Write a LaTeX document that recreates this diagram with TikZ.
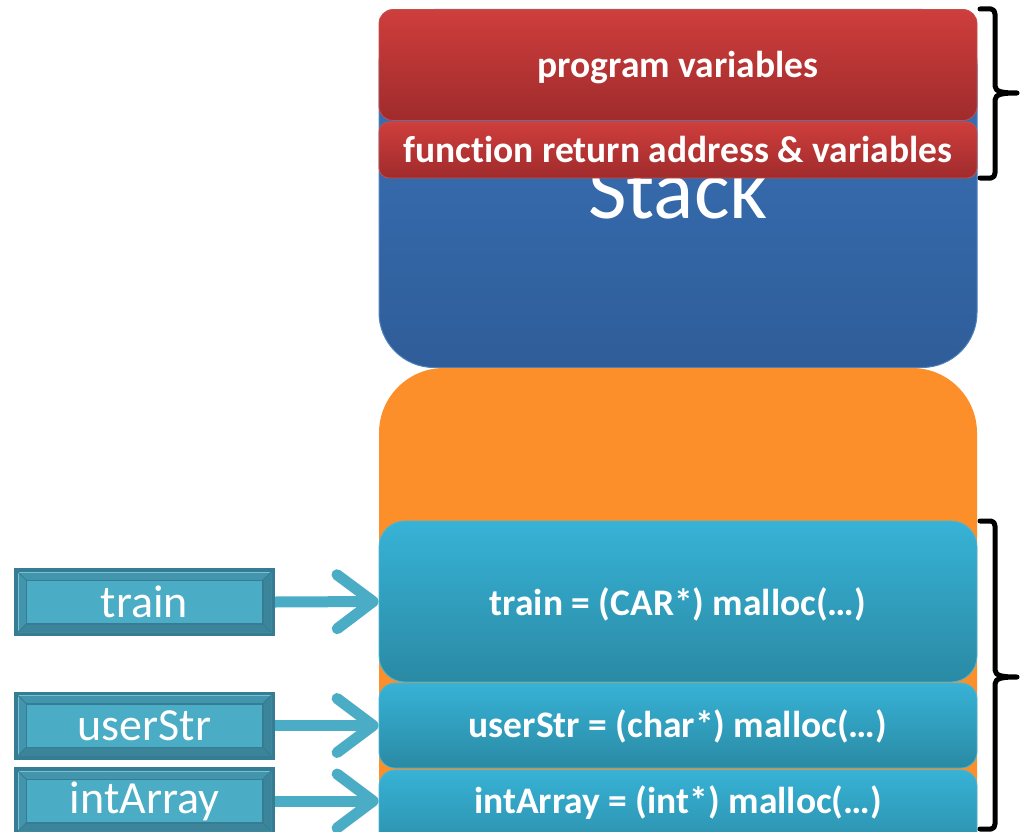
\documentclass[tikz,border=0pt]{standalone}
\usepackage{fontspec}
\setmainfont{Carlito}[Ligatures=NoCommon]
\usetikzlibrary{arrows.meta}

\definecolor{stacktop}{HTML}{3A74BA}
\definecolor{stackbot}{HTML}{2F5D99}
\definecolor{stackedge}{HTML}{4F81BD}
\definecolor{redtop}{HTML}{CE3E3C}
\definecolor{redbot}{HTML}{A02B2C}
\definecolor{rededge}{HTML}{C0504D}
\definecolor{heapfill}{HTML}{FD8F2B}
\definecolor{cyantop}{HTML}{37B2D6}
\definecolor{cyanbot}{HTML}{2A8AA4}
\definecolor{cyanedge}{HTML}{4BB5D3}
\definecolor{ptrdark}{HTML}{367C92}
\definecolor{ptrmid}{HTML}{4295AC}
\definecolor{ptrshade}{HTML}{3B849A}
\definecolor{ptrlight}{HTML}{4BACC6}
\definecolor{arrowcol}{HTML}{4BACC6}

\begin{document}
\begin{tikzpicture}[x=1pt,y=-1pt,
  region/.style={rectangle, inner sep=0pt, minimum width=598pt},
  stackbox/.style={region, rounded corners=55pt, top color=stacktop, bottom color=stackbot, draw=stackedge, line width=1pt},
  redbox/.style={region, rounded corners=14pt, top color=redtop, bottom color=redbot, draw=rededge, line width=0.8pt},
  cyanbox/.style={region, top color=cyantop, bottom color=cyanbot, draw=cyanedge, line width=0.8pt},
  boxtext/.style={anchor=base, inner sep=0pt, text=white, font=\bfseries\fontsize{37.5}{40}\selectfont},
  ptrbox/.style={rectangle, inner sep=0pt, minimum width=261pt, minimum height=68pt, fill=ptrdark,
    text=white, font=\fontsize{46}{50}\selectfont,
    path picture={
      % bevelled frame: lighter upper/left band, darker lower/right band
      \fill[ptrmid] ([shift={(3.5pt,-3.5pt)}]path picture bounding box.north west)
        rectangle ([shift={(-3.5pt,3.5pt)}]path picture bounding box.south east);
      \fill[ptrshade] ([shift={(3.5pt,3.5pt)}]path picture bounding box.south west)
        -- ([shift={(-3.5pt,3.5pt)}]path picture bounding box.south east)
        -- ([shift={(-3.5pt,-3.5pt)}]path picture bounding box.north east)
        -- ([shift={(-12pt,-12pt)}]path picture bounding box.north east)
        -- ([shift={(-12pt,12pt)}]path picture bounding box.south east)
        -- ([shift={(12pt,12pt)}]path picture bounding box.south west) -- cycle;
      \draw[ptrlight!75!white, line width=0.8pt] ([shift={(4pt,4pt)}]path picture bounding box.south west)
        -- ([shift={(4pt,-4pt)}]path picture bounding box.north west)
        -- ([shift={(-4pt,-4pt)}]path picture bounding box.north east);
      \draw[ptrdark, line width=0.8pt]
        ([shift={(4pt,-4pt)}]path picture bounding box.north west) -- ([shift={(12pt,-12pt)}]path picture bounding box.north west)
        ([shift={(-4pt,-4pt)}]path picture bounding box.north east) -- ([shift={(-12pt,-12pt)}]path picture bounding box.north east)
        ([shift={(4pt,4pt)}]path picture bounding box.south west) -- ([shift={(12pt,12pt)}]path picture bounding box.south west)
        ([shift={(-4pt,4pt)}]path picture bounding box.south east) -- ([shift={(-12pt,12pt)}]path picture bounding box.south east);
      \fill[ptrdark] ([shift={(11.5pt,-11.5pt)}]path picture bounding box.north west)
        rectangle ([shift={(-11.5pt,11.5pt)}]path picture bounding box.south east);
      \fill[ptrlight] ([shift={(13pt,-13pt)}]path picture bounding box.north west)
        rectangle ([shift={(-13pt,13pt)}]path picture bounding box.south east);
    }},
  pointer/.style={draw=arrowcol, line width=11pt,
    -{Straight Barb[length=36pt, width=54pt, round]}},
  bracket/.style={draw=black, line width=5pt, line cap=round, line join=round}
]
\useasboundingbox (0,0) rectangle (1020,832);
\clip (0,0) rectangle (1020,832);

% stack region with its label
\node[stackbox, minimum height=358pt] (stack) at (678,188.5) {};
\node[anchor=base, text=white, inner sep=0pt, font=\fontsize{84}{90}\selectfont] (stacklabel) at (678,218) {Stack};

% stack frames
\node[redbox, minimum height=111pt] (progvars) at (678,65) {};
\node[boxtext] (progtext) at (678,78) {program variables};
\node[redbox, rounded corners=10pt, minimum height=56pt] (funcframe) at (678,150) {};
\node[boxtext] (functext) at (678,162) {function return address \& variables};

% heap region (runs past the lower edge)
\path[fill=heapfill, rounded corners=65pt] (379,368) rectangle (977,900);

% heap allocations
\node[cyanbox, rounded corners=26pt, minimum height=161pt] (trainblk) at (678,601.5) {};
\node[boxtext] (traintext) at (678,615) {train = (CAR*) malloc(…)};
\node[cyanbox, rounded corners=16pt, minimum height=85pt] (strblk) at (678,725.5) {};
\node[boxtext] (strtext) at (678,737.5) {userStr = (char*) malloc(…)};
\node[cyanbox, rounded corners=16pt, minimum height=90pt] (arrblk) at (678,815) {};
\node[boxtext] (arrtext) at (678,813.5) {intArray = (int*) malloc(…)};

% pointer variables
\node[ptrbox] (ptrtrain) at (144.5,602) {train};
\node[ptrbox] (ptrstr) at (144.5,725.5) {userStr};
\node[ptrbox] (ptrarr) at (144.5,801) {intArray};

% pointers into the heap
\draw[pointer] (ptrtrain.east) -- (trainblk.west);
\draw[pointer] (ptrstr.east) -- (strblk.west);
\draw[pointer] (ptrarr.east) -- (ptrarr.east -| arrblk.west);

% brackets on the right
\path[bracket] (980,9) -- (991,9) to[out=0,in=90] (995,14) -- (995,86)
  .. controls (995,92) and (1003,93) .. (1017,93)
  .. controls (1003,93) and (995,94) .. (995,100) -- (995,173) to[out=-90,in=0] (991,178) -- (980,178);
\path[bracket] (980,521) -- (991,521) to[out=0,in=90] (995,526) -- (995,670)
  .. controls (995,676) and (1003,677) .. (1017,677)
  .. controls (1003,677) and (995,678) .. (995,684) -- (995,824) to[out=-90,in=0] (991,829) -- (980,829);
\end{tikzpicture}
\end{document}
